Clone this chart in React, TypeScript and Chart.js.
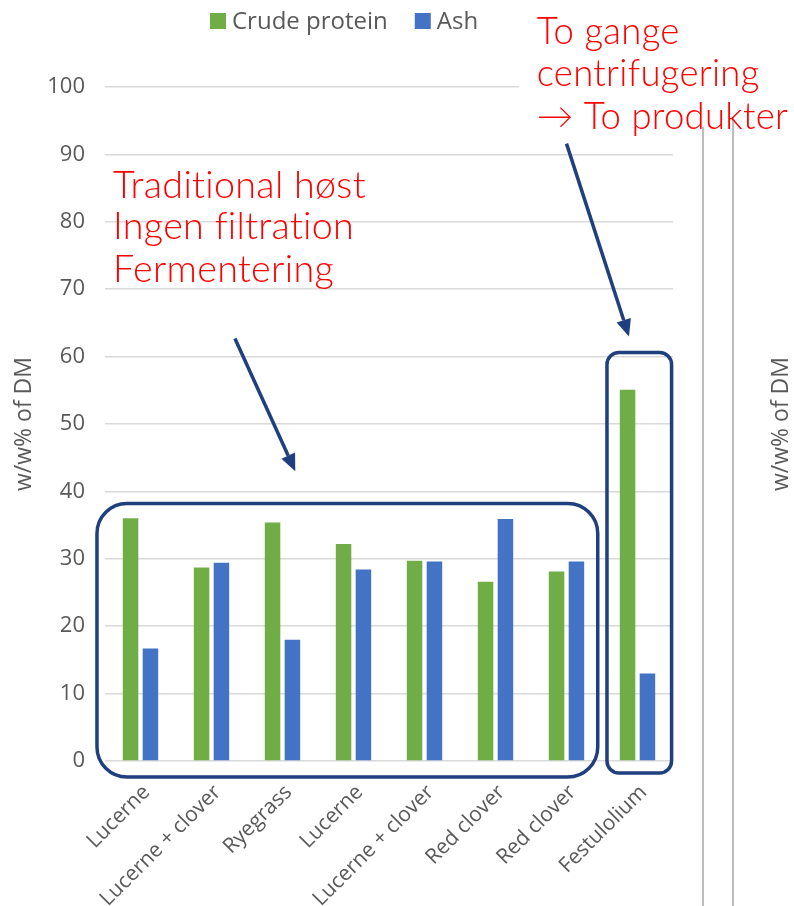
import React, { useEffect, useRef } from 'react';
import { Chart, registerables } from 'chart.js';

Chart.register(...registerables);

// ---- data ----
const categories = [
  'Lucerne',
  'Lucerne + clover',
  'Ryegrass',
  'Lucerne',
  'Lucerne + clover',
  'Red clover',
  'Red clover',
  'Festulolium',
];
const seriesNames = ['Crude protein', 'Ash'];
const crudeProtein = [36.0, 28.7, 35.4, 32.2, 29.7, 26.6, 28.1, 55.1];
const ash = [16.7, 29.4, 18.0, 28.4, 29.6, 35.9, 29.6, 13.0];
const yMin = 0;
const yMax = 100;
const yStep = 10;
const axisTitle = 'w/w% of DM';
const leftNote = ['Traditional høst', 'Ingen filtration', 'Fermentering'];
const rightNote = ['To gange', 'centrifugering', '\u2192 To produkter'];

// ---- styles ----
const GREEN = '#70AD47';
const BLUE = '#4472C4';
const GRAY_TEXT = '#595959';
const GRID = '#D9D9D9';
const NAVY = '#1F3F7E';
const RED = '#FF0000';
const FONT = "'Open Sans', 'Noto Sans', sans-serif";
const NOTE_FONT = "Lato, 'Open Sans', sans-serif";
const NOTE_WEIGHT = 300;

// annotation geometry in data units (category index, value)
const groupBoxes = [
  { x0: -0.613, x1: 6.44, y0: -2.37, y1: 38.2, r: 30 },
  { x0: 6.57, x1: 7.48, y0: -1.78, y1: 60.6, r: 12 },
];
const arrows = [
  { x0: 1.33, y0: 62.7, x1: 2.18, y1: 43.0 },
  { x0: 6.0, y0: 91.6, x1: 6.88, y1: 63.0 },
];
const leftNotePos = { x: -0.387, baselines: [83.6, 77.4, 71.1], fitLine: 0, width: 250 };
const rightNotePos = { x: 5.58, baselines: [106.4, 100.1, 93.8], fitLine: 2, width: 249 };

function roundRect(ctx: CanvasRenderingContext2D, x: number, y: number, w: number, h: number, r: number) {
  ctx.beginPath();
  ctx.moveTo(x + r, y);
  ctx.lineTo(x + w - r, y);
  ctx.arcTo(x + w, y, x + w, y + r, r);
  ctx.lineTo(x + w, y + h - r);
  ctx.arcTo(x + w, y + h, x + w - r, y + h, r);
  ctx.lineTo(x + r, y + h);
  ctx.arcTo(x, y + h, x, y + h - r, r);
  ctx.lineTo(x, y + r);
  ctx.arcTo(x, y, x + r, y, r);
  ctx.closePath();
}

function fitSize(ctx: CanvasRenderingContext2D, text: string, target: number) {
  ctx.font = `${NOTE_WEIGHT} 100px ${NOTE_FONT}`;
  const w = ctx.measureText(text).width;
  return (100 * target) / w;
}

const annotationPlugin = {
  id: 'annotations',
  afterDatasetsDraw(chart: any) {
    const ctx: any = chart.ctx;
    const xs = chart.scales.x;
    const ys = chart.scales.y;
    const area = chart.chartArea;
    const px = (v: number) => xs.getPixelForValue(v);
    const py = (v: number) => ys.getPixelForValue(v);
    ctx.save();

    // remnant axis lines of the neighbouring chart
    ctx.strokeStyle = '#A6A6A6';
    ctx.lineWidth = 1.5;
    ctx.beginPath();
    ctx.moveTo(area.right + 30, 127);
    ctx.lineTo(area.right + 30, chart.height);
    ctx.moveTo(area.right + 60, 117);
    ctx.lineTo(area.right + 60, chart.height);
    ctx.stroke();

    // white backing behind the right note
    ctx.fillStyle = '#FFFFFF';
    ctx.fillRect(px(5.33), 0, area.right + 27 - px(5.33), 126);

    // red notes
    ctx.fillStyle = RED;
    ctx.textAlign = 'left';
    ctx.textBaseline = 'alphabetic';
    if ('letterSpacing' in ctx) ctx.letterSpacing = '0.3px';
    [
      { lines: leftNote, pos: leftNotePos },
      { lines: rightNote, pos: rightNotePos },
    ].forEach(({ lines, pos }) => {
      const s = fitSize(ctx, lines[pos.fitLine], pos.width);
      ctx.font = `${NOTE_WEIGHT} ${s}px ${NOTE_FONT}`;
      lines.forEach((t, i) => ctx.fillText(t, px(pos.x), py(pos.baselines[i])));
    });
    if ('letterSpacing' in ctx) ctx.letterSpacing = '0px';

    // group boxes
    ctx.strokeStyle = NAVY;
    ctx.lineWidth = 3.5;
    groupBoxes.forEach((b) => {
      const x0 = px(b.x0);
      const x1 = px(b.x1);
      const y0 = py(b.y1);
      const y1 = py(b.y0);
      roundRect(ctx, x0, y0, x1 - x0, y1 - y0, b.r);
      ctx.stroke();
    });

    // arrows
    ctx.fillStyle = NAVY;
    arrows.forEach((a) => {
      const sx = px(a.x0);
      const sy = py(a.y0);
      const ex = px(a.x1);
      const ey = py(a.y1);
      const ang = Math.atan2(ey - sy, ex - sx);
      const hl = 17;
      const hw = 7.5;
      const bx = ex - hl * Math.cos(ang);
      const by = ey - hl * Math.sin(ang);
      ctx.beginPath();
      ctx.moveTo(sx, sy);
      ctx.lineTo(bx, by);
      ctx.stroke();
      ctx.beginPath();
      ctx.moveTo(ex, ey);
      ctx.lineTo(bx + hw * Math.sin(ang), by - hw * Math.cos(ang));
      ctx.lineTo(bx - hw * Math.sin(ang), by + hw * Math.cos(ang));
      ctx.closePath();
      ctx.fill();
    });

    // right-hand axis title of the neighbouring chart
    ctx.fillStyle = GRAY_TEXT;
    ctx.font = `23px ${FONT}`;
    ctx.textAlign = 'center';
    ctx.textBaseline = 'middle';
    ctx.translate(chart.width - 13, (area.top + area.bottom) / 2);
    ctx.rotate(-Math.PI / 2);
    ctx.fillText(axisTitle, 0, 0);
    ctx.setTransform(1, 0, 0, 1, 0, 0);
    ctx.restore();

    // legend
    ctx.save();
    ctx.font = `24px ${FONT}`;
    ctx.textAlign = 'left';
    ctx.textBaseline = 'middle';
    let lx = 210;
    const ly = 21;
    chart.data.datasets.forEach((ds: any) => {
      ctx.fillStyle = ds.backgroundColor;
      ctx.fillRect(lx, ly - 8, 16, 16);
      ctx.fillStyle = GRAY_TEXT;
      ctx.fillText(ds.label, lx + 22, ly + 1);
      lx += 22 + ctx.measureText(ds.label).width + 27;
    });
    ctx.restore();
  },
};

export default function App() {
  const ref = useRef<HTMLCanvasElement | null>(null);
  useEffect(() => {
    if (!ref.current) return;
    const chart = new Chart(ref.current, {
      type: 'bar',
      data: {
        labels: categories,
        datasets: [
          { label: seriesNames[0], data: crudeProtein, backgroundColor: GREEN, borderWidth: 0 },
          { label: seriesNames[1], data: ash, backgroundColor: BLUE, borderWidth: 0 },
        ],
      },
      options: {
        responsive: false,
        animation: false,
        events: [],
        datasets: { bar: { categoryPercentage: 0.56, barPercentage: 0.78 } },
        layout: { padding: { left: 0, right: 121, top: 87, bottom: 0 } },
        plugins: { legend: { display: false }, tooltip: { enabled: false }, title: { display: false } },
        scales: {
          x: {
            grid: { display: false, drawTicks: false },
            border: { display: false },
            ticks: {
              autoSkip: false,
              minRotation: 45,
              maxRotation: 45,
              padding: 19,
              labelOffset: 6,
              color: GRAY_TEXT,
              font: { family: FONT, size: 21 },
            },
            afterFit: (s: any) => {
              s.height = 145;
            },
          },
          y: {
            min: yMin,
            max: yMax,
            ticks: { stepSize: yStep, padding: 20, color: GRAY_TEXT, font: { family: FONT, size: 22 } },
            grid: { color: GRID, lineWidth: 1.5, drawTicks: false },
            border: { display: false },
            title: {
              display: true,
              text: axisTitle,
              color: GRAY_TEXT,
              font: { family: FONT, size: 23 },
              padding: { top: 11, bottom: 0 },
            },
            afterFit: (s: any) => {
              s.width = 105;
            },
          },
        },
      },
      plugins: [annotationPlugin],
    });
    return () => chart.destroy();
  }, []);
  return (
    <div style={{ position: 'absolute', left: 0, top: 0, width: 794, height: 906, background: '#fff' }}>
      <canvas ref={ref} width={794} height={906} style={{ display: 'block' }} />
    </div>
  );
}
